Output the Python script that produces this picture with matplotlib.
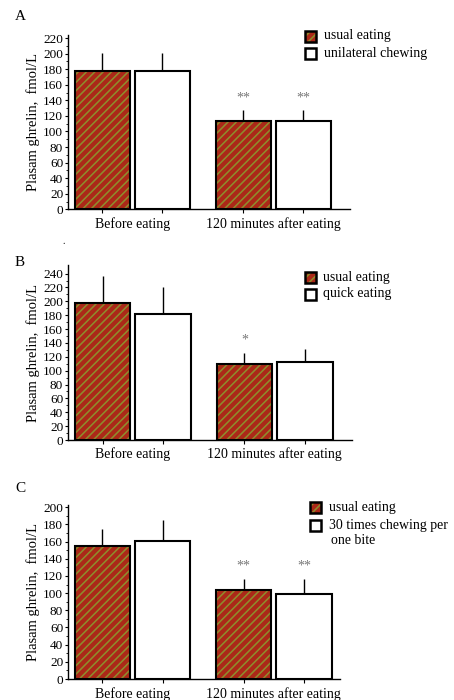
import numpy as np
import matplotlib.pyplot as plt

plt.rcParams['font.family'] = ['Liberation Serif', 'DejaVu Serif']
plt.rcParams['hatch.linewidth'] = 1.15

W, H = 454, 700

groups = ['Before eating', '120 minutes after eating']

# panel A: usual vs unilateral chewing
a_usual = [178, 113]
a_usual_err = [23, 14]
a_other = [178, 113]
a_other_err = [23, 14]
a_stars = ['', '**']
a_other_stars = ['', '**']

# panel B: usual vs quick eating
b_usual = [198, 109]
b_usual_err = [39, 17]
b_other = [182, 113]
b_other_err = [38, 19]
b_stars = ['', '*']
b_other_stars = ['', '']

# panel C: usual vs 30 chews per bite
c_usual = [155, 104]
c_usual_err = [20, 13]
c_other = [161, 99]
c_other_err = [24, 18]
c_stars = ['', '**']
c_other_stars = ['', '**']

red = '#ab2818'
stripe = '#8f8c2c'

fig = plt.figure(figsize=(W / 100, H / 100), dpi=100)


def px(x, y):
    # pixel position -> figure fraction
    return x / W, 1 - y / H


def legend_box(x, y, striped):
    fx, fy = px(x, y + 11)
    w, h = 11 / W, 11 / H
    if striped:
        fig.patches.append(plt.Rectangle((fx, fy), w, h, transform=fig.transFigure,
                                         facecolor=red, edgecolor=stripe,
                                         hatch='////', linewidth=0))
        fig.patches.append(plt.Rectangle((fx, fy), w, h, transform=fig.transFigure,
                                         fill=False, edgecolor='black',
                                         linewidth=1.8))
    else:
        fig.patches.append(plt.Rectangle((fx, fy), w, h, transform=fig.transFigure,
                                         facecolor='white', edgecolor='black',
                                         linewidth=1.8))


def panel(rect, letter, letter_y, usual, usual_err, other, other_err, st1, st2,
          ymax, ytop, xright, leg_x, leg_y, legend2, text_x):
    ax = fig.add_axes(rect)
    pos = np.array([0.0, 2.35])
    w = 0.92
    x1 = pos
    x2 = pos + 1.0
    # striped bars: fill + hatch, then black outline on top
    ax.bar(x1, usual, w, color=red, edgecolor=stripe, hatch='////', linewidth=0)
    ax.bar(x1, usual, w, fill=False, edgecolor='black', linewidth=1.5)
    ax.bar(x2, other, w, color='white', edgecolor='black', linewidth=1.5)
    ax.errorbar(x1, usual, yerr=[np.zeros(2), usual_err], fmt='none',
                ecolor='black', elinewidth=1, capsize=0)
    ax.errorbar(x2, other, yerr=[np.zeros(2), other_err], fmt='none',
                ecolor='black', elinewidth=1, capsize=0)
    for x, v, e, s in zip(x1, usual, usual_err, st1):
        if s:
            ax.text(x, v + e + ymax * 0.035, s, ha='center', va='bottom',
                    color='#777777', fontsize=10)
    for x, v, e, s in zip(x2, other, other_err, st2):
        if s:
            ax.text(x, v + e + ymax * 0.035, s, ha='center', va='bottom',
                    color='#777777', fontsize=10)

    ax.set_xlim(-0.57, xright)
    ax.set_ylim(0, ytop)
    ax.set_yticks(np.arange(0, ymax + 1, 20))
    ax.set_yticks(np.arange(0, ymax + 1, 10), minor=True)
    ax.set_xticks(np.concatenate([x1, x2]))
    ax.set_xticklabels([])
    ax.tick_params(axis='y', labelsize=9.5, length=2.5, width=0.8, pad=1)
    ax.tick_params(axis='y', which='minor', length=1.5, width=0.6)
    ax.tick_params(axis='x', length=3, width=0.8)
    for sp in ['top', 'right']:
        ax.spines[sp].set_visible(False)
    ax.spines['left'].set_linewidth(1.0)
    ax.spines['bottom'].set_linewidth(1.0)
    ax.set_ylabel('Plasam ghrelin,  fmol/L', fontsize=10.5, labelpad=2)
    for p, g in zip(pos + 0.5, groups):
        ax.text(p, -ymax * 0.045, g, ha='center', va='top', fontsize=10)

    fig.text(*px(15, letter_y), letter, fontsize=11, ha='left', va='center')

    legend_box(leg_x, leg_y[0], True)
    legend_box(leg_x, leg_y[1], False)
    fig.text(*px(text_x, leg_y[0] + 5), 'usual eating', fontsize=10,
             ha='left', va='center')
    lines = legend2.split('\n')
    fig.text(*px(text_x, leg_y[1] + 5), lines[0], fontsize=10,
             ha='left', va='center')
    if len(lines) > 1:
        fig.text(*px(text_x + 2, leg_y[1] + 20), lines[1], fontsize=10,
                 ha='left', va='center')
    return ax


axA = panel([0.150, 0.701, 0.621, 0.249], 'A', 17, a_usual, a_usual_err,
            a_other, a_other_err, a_stars, a_other_stars, 220, 224, 4.13,
            305, (31, 48), 'unilateral chewing', 324)
axB = panel([0.150, 0.3714, 0.625, 0.2496], 'B', 263, b_usual, b_usual_err,
            b_other, b_other_err, b_stars, b_other_stars, 240, 252, 4.13,
            305, (272, 289), 'quick eating', 323)
axC = panel([0.150, 0.030, 0.599, 0.249], 'C', 489, c_usual, c_usual_err,
            c_other, c_other_err, c_stars, c_other_stars, 200, 203, 3.95,
            310, (502, 520), '30 times chewing per\none bite', 329)

fig.text(0.137, 0.652, '.', fontsize=7)

fig.savefig('out.png', dpi=100)
